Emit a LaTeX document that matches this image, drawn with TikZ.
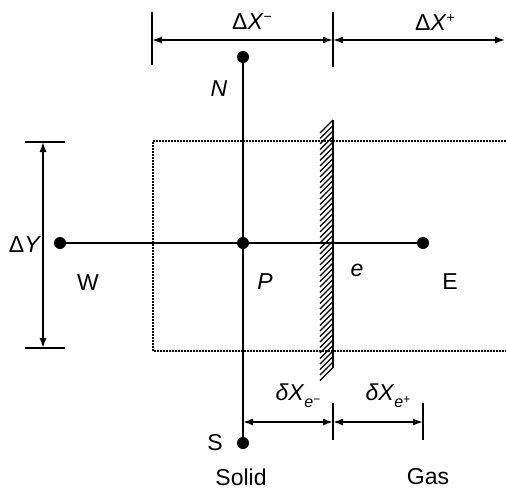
\documentclass[tikz,border=0pt]{standalone}
\usepackage{fontspec}
\setmainfont{Liberation Sans}
\usetikzlibrary{arrows.meta}
\tikzset{
  lbl/.style={inner sep=0pt, font=\fontsize{23}{26}\selectfont},
  pt/.style={circle, fill=black, inner sep=0pt, minimum size=12pt},
  ln/.style={line width=1.8pt},
  dim/.style={line width=1.4pt, {Latex[length=10pt,width=7pt]}-{Latex[length=10pt,width=7pt]}},
  tick/.style={line width=1.8pt},
  dots/.style={line width=1.8pt, dash pattern=on 1.6pt off 1.4pt},
  hatch/.style={line width=1.3pt}
}
\newcommand{\supm}[1]{\raisebox{8pt}{\fontsize{14}{14}\selectfont #1}}
\newcommand{\subm}[2]{\raisebox{-7pt}{\fontsize{16}{16}\selectfont\textit{#1}\raisebox{4pt}{\fontsize{12}{12}\selectfont #2}}}
\begin{document}
\begin{tikzpicture}[x=1pt,y=-1pt]
\useasboundingbox (0,0) rectangle (506,490);
% dotted control volume
\draw[dots] (506,141) -- (153,141) -- (153,351) -- (506,351);
% hatch of wall
\foreach \k in {0,...,45} {
  \draw[hatch] (320,{133+5.5*\k}) -- (333,{120+5.5*\k});
}
\coordinate (wt) at (333,120);
\coordinate (wb) at (333,368);
\draw[ln] (wt) -- (wb);
% grid points
\node[pt] (N) at (243,57) {};
\node[pt] (S) at (243,443) {};
\node[pt] (P) at (243,243) {};
\node[pt] (W) at (60,243) {};
\node[pt] (E) at (423,243) {};
\draw[ln] (N) -- (S);
\draw[ln] (W) -- (E);
% top dimensions
\coordinate (t1a) at (152,12); \coordinate (t1b) at (152,65);
\coordinate (t2a) at (333,12); \coordinate (t2b) at (333,67);
\draw[tick] (t1a) -- (t1b);
\draw[tick] (t2a) -- (t2b);
\coordinate (d1) at (152,40); \coordinate (d2) at (333,40); \coordinate (d3) at (505,40);
\draw[dim] (d1) -- (d2);
\draw[dim] (d2) -- (d3);
\node[lbl] (dxm) at (252,22) {Δ\textit{X}\supm{−}};
\node[lbl] (dxp) at (435,22) {Δ\textit{X}\supm{+}};
% left dimension
\coordinate (y1a) at (25,142); \coordinate (y1b) at (65,142);
\coordinate (y2a) at (25,348); \coordinate (y2b) at (65,348);
\draw[tick] (y1a) -- (y1b);
\draw[tick] (y2a) -- (y2b);
\coordinate (dy1) at (43,142); \coordinate (dy2) at (43,348);
\draw[dim] (dy1) -- (dy2);
\node[lbl] (dy) at (25,245) {Δ\textit{Y}};
% bottom dimensions
\coordinate (b1a) at (333,403); \coordinate (b1b) at (333,440);
\coordinate (b2a) at (423,403); \coordinate (b2b) at (423,440);
\draw[tick] (b1a) -- (b1b);
\draw[tick] (b2a) -- (b2b);
\coordinate (e1) at (243,422); \coordinate (e2) at (333,422); \coordinate (e3) at (423,422);
\draw[dim] (e1) -- (e2);
\draw[dim] (e2) -- (e3);
\node[lbl] (dem) at (298,396) {\textit{δX}\subm{e}{−}};
\node[lbl] (dep) at (388,396) {\textit{δX}\subm{e}{+}};
% labels
\node[lbl] (lN) at (219,89) {\textit{N}};
\node[lbl] (lW) at (88,283) {W};
\node[lbl] (lP) at (265,282) {\textit{P}};
\node[lbl] (le) at (357,270) {\textit{e}};
\node[lbl] (lE) at (450,282) {E};
\node[lbl] (lS) at (215,443) {S};
\node[lbl] (solid) at (241,477) {Solid};
\node[lbl] (gas) at (428,477) {Gas};
\end{tikzpicture}
\end{document}
